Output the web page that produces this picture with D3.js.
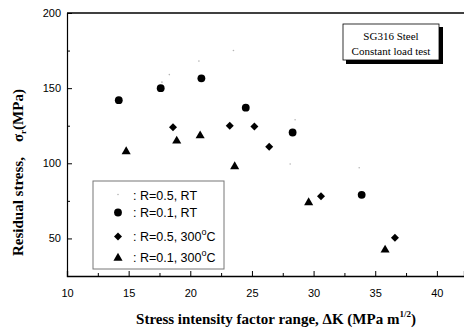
<!DOCTYPE html>
<html>
<head>
<meta charset="utf-8">
<script src="https://cdn.jsdelivr.net/npm/d3@7"></script>
<style>
  body { margin: 0; background: #fff; }
  #chart { width: 464px; height: 328px; }
  .tick text { font-family: "Liberation Sans", Arial, sans-serif; font-size: 11px; fill: #000; }
</style>
</head>
<body>
<div id="chart"></div>
<script>
// data
const xTicks = [10, 15, 20, 25, 30, 35, 40];
const yTicks = [50, 100, 150, 200];

const rtR05_K = [17.7, 18.3, 20.7, 23.5, 28.5, 28.1, 33.7];
const rtR05_S = [154, 159, 168, 175, 129, 99.5, 97];

const rtR01_K = [14.2, 17.6, 20.9, 24.5, 28.3, 33.9];
const rtR01_S = [142, 150, 156.5, 137, 120.5, 79];

const hR05_K = [18.6, 23.2, 25.2, 26.4, 30.6, 36.6];
const hR05_S = [124, 125, 124.5, 111, 78, 50.5];

const hR01_K = [14.8, 18.9, 20.8, 23.6, 29.6, 35.8];
const hR01_S = [108.5, 115.5, 119, 98.5, 74.5, 43];

const seriesNames = ["R=0.5, RT", "R=0.1, RT", "R=0.5, 300", "R=0.1, 300"];

// 1. SVG
const width = 464;
const height = 328;
const svg = d3.select("#chart")
  .append("svg")
  .attr("width", width)
  .attr("height", height);

// 2. SCALES
const margin = { top: 13, left: 67, right: 0, bottom: 52 };

const xScale = d3.scaleLinear()
  .domain([10, 42.2])
  .range([margin.left, width - margin.right]);

const yScale = d3.scaleLinear()
  .domain([25, 200])
  .range([height - margin.bottom, margin.top]);

// 3. AXES (ticks point inward)
const xAxis = svg.append("g")
  .attr("transform", `translate(0,${height - margin.bottom})`)
  .call(d3.axisTop(xScale).tickValues(xTicks).tickSize(5).tickFormat(d3.format("d")));
xAxis.select(".domain").attr("stroke-width", 1.3);
xAxis.selectAll(".tick text").attr("y", 13).attr("dy", "0.71em").style("text-anchor", "middle");

const xMinor = svg.append("g")
  .attr("transform", `translate(0,${height - margin.bottom})`)
  .call(d3.axisTop(xScale).tickValues(d3.range(12.5, 42, 5)).tickSize(3).tickFormat(""));
xMinor.select(".domain").remove();

const yAxis = svg.append("g")
  .attr("transform", `translate(${margin.left},0)`)
  .call(d3.axisRight(yScale).tickValues(yTicks).tickSize(5));
yAxis.select(".domain").attr("stroke-width", 1.2);
yAxis.selectAll(".tick text").attr("x", -6).style("text-anchor", "end");

const yMinor = svg.append("g")
  .attr("transform", `translate(${margin.left},0)`)
  .call(d3.axisRight(yScale).tickValues([75, 125, 175]).tickSize(3).tickFormat(""));
yMinor.select(".domain").remove();

// top frame line
svg.append("line")
  .attr("x1", margin.left).attr("x2", width)
  .attr("y1", margin.top).attr("y2", margin.top)
  .attr("stroke", "#000").attr("stroke-width", 1.3);

// 4. MARKERS
const circleSym = d3.symbol().type(d3.symbolCircle).size(48);
const diamondSym = d3.symbol().type(d3.symbolSquare).size(32);
const triSym = d3.symbol().type(d3.symbolTriangle).size(36);

svg.selectAll(".rt05")
  .data(rtR05_K)
  .enter()
  .append("circle")
    .attr("cx", d => xScale(d))
    .attr("cy", (d, i) => yScale(rtR05_S[i]))
    .attr("r", 0.8)
    .attr("fill", "#b5b5b5");

svg.selectAll(".rt01")
  .data(rtR01_K)
  .enter()
  .append("path")
    .attr("d", circleSym)
    .attr("transform", (d, i) => `translate(${xScale(d)},${yScale(rtR01_S[i])})`)
    .attr("fill", "#000");

svg.selectAll(".h05")
  .data(hR05_K)
  .enter()
  .append("path")
    .attr("d", diamondSym)
    .attr("transform", (d, i) => `translate(${xScale(d)},${yScale(hR05_S[i])}) rotate(45)`)
    .attr("fill", "#000");

svg.selectAll(".h01")
  .data(hR01_K)
  .enter()
  .append("path")
    .attr("d", triSym)
    .attr("transform", (d, i) => `translate(${xScale(d)},${yScale(hR01_S[i]) + 1})`)
    .attr("fill", "#000");

// 5. AXIS LABELS
svg.append("text")
  .attr("x", 276)
  .attr("y", 324)
  .attr("text-anchor", "middle")
  .style("font-family", "'Liberation Serif', 'Times New Roman', serif")
  .style("font-weight", "bold")
  .style("font-size", "15px")
  .html('Stress intensity factor range, ΔK (MPa m<tspan font-size="9px" dy="-7">1/2</tspan><tspan dy="7">)</tspan>');

const yLab = svg.append("text")
  .attr("transform", "rotate(-90)")
  .attr("x", -256)
  .attr("y", 23)
  .attr("text-anchor", "start")
  .style("font-family", "'Liberation Serif', 'Times New Roman', serif")
  .style("font-weight", "bold")
  .style("font-size", "15px")
  .attr("xml:space", "preserve")
  .html('Residual stress,    σ<tspan font-size="9px" dy="3">r</tspan><tspan dy="-3">(MPa)</tspan>');

// 6. LEGEND
const legend = svg.append("g").attr("transform", "translate(93,181)");
legend.append("rect")
  .attr("x", 0).attr("y", 0)
  .attr("width", 131).attr("height", 88)
  .attr("fill", "#fff")
  .attr("stroke", "#777")
  .attr("stroke-width", 1);

const legendRows = [13.5, 31.5, 55.5, 76];
const textRows = [18.5, 36, 59.5, 81];
const legendSyms = [null, circleSym, diamondSym, triSym];

seriesNames.forEach(function(name, i) {
  const g = legend.append("g").attr("transform", `translate(25,${legendRows[i]})`);
  if (i === 0) {
    g.append("circle").attr("r", 0.8).attr("fill", "#b5b5b5");
  } else {
    g.append("path")
      .attr("d", legendSyms[i])
      .attr("transform", i === 2 ? "rotate(45)" : (i === 3 ? "translate(0,1)" : null))
      .attr("fill", "#000");
  }
  const t = legend.append("text")
    .attr("x", 40)
    .attr("y", textRows[i])
    .style("font-family", "'Liberation Sans', Arial, sans-serif")
    .style("font-size", "12.5px");
  if (i < 2) {
    t.text(": " + name);
  } else {
    t.html(": " + name + '<tspan font-size="9px" dy="-6">o</tspan><tspan dy="6">C</tspan>');
  }
});

// 7. NOTE BOX
const note = svg.append("g");
note.append("rect")
  .attr("x", 346).attr("y", 27)
  .attr("width", 97).attr("height", 37)
  .attr("fill", "#000");
note.append("rect")
  .attr("x", 343).attr("y", 24)
  .attr("width", 96).attr("height", 36)
  .attr("fill", "#fff")
  .attr("stroke", "#000")
  .attr("stroke-width", 0.8);
note.append("text")
  .attr("x", 391).attr("y", 40)
  .attr("text-anchor", "middle")
  .style("font-family", "'Liberation Serif', 'Times New Roman', serif")
  .style("font-size", "11px")
  .text("SG316 Steel");
note.append("text")
  .attr("x", 391).attr("y", 55)
  .attr("text-anchor", "middle")
  .style("font-family", "'Liberation Serif', 'Times New Roman', serif")
  .style("font-size", "11px")
  .text("Constant load test");
</script>
</body>
</html>
